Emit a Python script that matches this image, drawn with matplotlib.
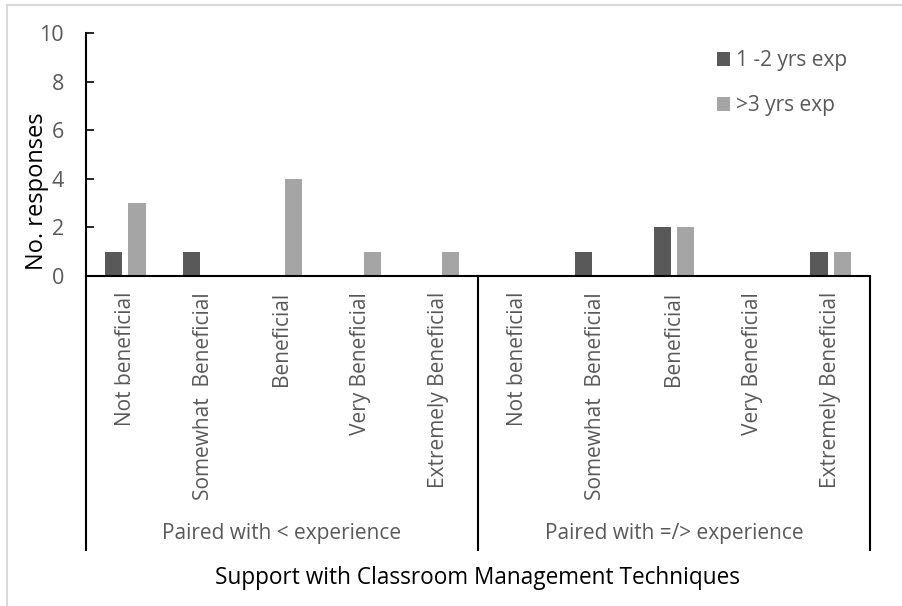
import numpy as np
import matplotlib.pyplot as plt

categories = ["Not beneficial", "Somewhat  Beneficial", "Beneficial",
              "Very Beneficial", "Extremely Beneficial",
              "Not beneficial", "Somewhat  Beneficial", "Beneficial",
              "Very Beneficial", "Extremely Beneficial"]
groups = ["Paired with < experience", "Paired with =/> experience"]
exp_1_2 = [1, 1, 0, 0, 0, 0, 1, 2, 0, 1]
exp_3 = [3, 0, 4, 1, 1, 0, 0, 2, 0, 1]
yticks = [0, 2, 4, 6, 8, 10]

dark = "#595959"
light = "#A5A5A5"
gray_text = "#595959"

plt.rcParams['font.family'] = ['Open Sans', 'DejaVu Sans']

fig = plt.figure(figsize=(9.03, 6.06), dpi=100)
W, H = 903, 606
x0, x1, ytop, yzero = 86, 870, 33, 276
ax = fig.add_axes([x0 / W, 1 - yzero / H, (x1 - x0) / W, (yzero - ytop) / H])

# light figure border (left and top only visible)
fig.add_artist(plt.Line2D([7 / W, 7 / W], [0, 1 - 5 / H], color="#D9D9D9", lw=1.5))
fig.add_artist(plt.Line2D([7 / W, 1], [1 - 5 / H, 1 - 5 / H], color="#D9D9D9", lw=1.5))

x = np.arange(len(categories)) + 0.5
w = 0.22
ax.bar(x - 0.15, exp_1_2, w, color=dark, label="1 -2 yrs exp")
ax.bar(x + 0.15, exp_3, w, color=light, label=">3 yrs exp")

ax.set_xlim(0, len(categories))
ax.set_ylim(0, 10)
ax.set_yticks(yticks)
ax.tick_params(axis="y", direction="in", length=6, width=1.2, colors="black",
               labelcolor=gray_text, labelsize=15.5, pad=16)
ax.set_xticks([])
for s in ["top", "right"]:
    ax.spines[s].set_visible(False)
ax.spines["left"].set_linewidth(1.5)
ax.spines["bottom"].set_linewidth(1.5)

# category box lines below the axis
bottom = -(550 - yzero) / (yzero - ytop)
trans = ax.get_xaxis_transform()
for xv in [0, 5, 10]:
    ax.plot([xv, xv], [0, bottom], color="black", lw=1.5, transform=trans, clip_on=False)

label_top = -(292 - yzero) / (yzero - ytop)
for xi, lab in zip(x, categories):
    ax.text(xi, label_top, lab, rotation=90, ha="center", va="top", fontsize=15,
            color=gray_text, transform=trans)

group_y = -(533 - yzero) / (yzero - ytop)
for gi, g in enumerate(groups):
    ax.text(2.5 + 5 * gi, group_y, g, ha="center", va="center", fontsize=15,
            color=gray_text, transform=trans)

fig.text(478 / W, 1 - 578 / H, "Support with Classroom Management Techniques",
         ha="center", va="center", fontsize=16.3, color="black")
fig.text(37 / W, 1 - 191 / H, "No. responses", rotation=90, ha="center",
         va="center", fontsize=17, color="black")

ax.legend(loc="upper left", bbox_to_anchor=((709 - x0) / (x1 - x0), 0.963),
          frameon=False, fontsize=15, labelcolor=gray_text, handlelength=0.6,
          handleheight=0.7, handletextpad=0.3, labelspacing=1.15, borderaxespad=0)

fig.savefig("out.png", dpi=100)
